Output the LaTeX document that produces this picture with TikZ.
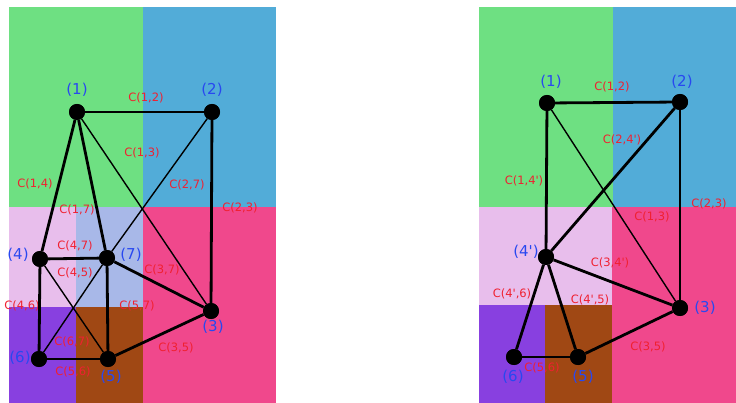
\documentclass[tikz,border=0pt]{standalone}
\usepackage{fontspec}
\setmainfont{DejaVu Sans}
\definecolor{cgreen}{HTML}{6EE082}
\definecolor{cblue}{HTML}{52ACD8}
\definecolor{cpink}{HTML}{F0488C}
\definecolor{clpink}{HTML}{E8BEEC}
\definecolor{clav}{HTML}{A8B8E8}
\definecolor{cpurple}{HTML}{8840E0}
\definecolor{cbrown}{HTML}{A04814}
\definecolor{cnode}{HTML}{2848F0}
\definecolor{cedge}{HTML}{F02030}
\newcommand{\pr}{\textquotesingle}
\begin{document}
\begin{tikzpicture}[x=1pt,y=-1pt,
  dot/.style={circle,fill=black,inner sep=0pt,minimum size=16pt},
  nlab/.style={text=cnode,font=\fontsize{15}{15}\selectfont,inner sep=0pt},
  elab/.style={text=cedge,font=\fontsize{11.5}{11.5}\selectfont,inner sep=0pt},
  thk/.style={line width=2.8pt},
  thn/.style={line width=1.4pt}]
\useasboundingbox (0,0) rectangle (736,403);
% left panel regions
\fill[cgreen] (9,7) rectangle (143,207);
\fill[cblue] (143,7) rectangle (276,207);
\fill[clpink] (9,207) rectangle (76,307);
\fill[clav] (76,207) rectangle (143,307);
\fill[cpink] (143,207) rectangle (276,403);
\fill[cpurple] (9,307) rectangle (76,403);
\fill[cbrown] (76,307) rectangle (143,403);
% right panel regions
\fill[cgreen] (479,7) rectangle (613,207);
\fill[cblue] (613,7) rectangle (736,207);
\fill[clpink] (479,207) rectangle (612,305);
\fill[cpink] (612,207) rectangle (736,403);
\fill[cpurple] (479,305) rectangle (545,403);
\fill[cbrown] (545,305) rectangle (612,403);
% left nodes
\node[dot] (a1) at (77,112) {};
\node[dot] (a2) at (212,112) {};
\node[dot] (a3) at (211,311) {};
\node[dot] (a4) at (40,259) {};
\node[dot] (a5) at (108,359) {};
\node[dot] (a6) at (39,359) {};
\node[dot] (a7) at (107,258) {};
% right nodes
\node[dot] (b1) at (547,103) {};
\node[dot] (b2) at (680,102) {};
\node[dot] (b3) at (680,308) {};
\node[dot] (b4) at (546,257) {};
\node[dot] (b5) at (578,357) {};
\node[dot] (b6) at (514,357) {};
% left edge labels
\node[elab] (la12) at (146,98) {C(1,2)};
\node[elab] (la13) at (142,153) {C(1,3)};
\node[elab] (la27) at (187,185) {C(2,7)};
\node[elab] (la14) at (35,184) {C(1,4)};
\node[elab] (la17) at (77,210) {C(1,7)};
\node[elab] (la23) at (240,208) {C(2,3)};
\node[elab] (la47) at (75,246) {C(4,7)};
\node[elab] (la45) at (75,273) {C(4,5)};
\node[elab] (la37) at (162,270) {C(3,7)};
\node[elab] (la46) at (22,306) {C(4,6)};
\node[elab] (la57) at (137,306) {C(5,7)};
\node[elab] (la35) at (176,348) {C(3,5)};
\node[elab] (la67) at (72,342) {C(6,7)};
\node[elab] (la56) at (73,372) {C(5,6)};
% right edge labels
\node[elab] (lb12) at (612,87) {C(1,2)};
\node[elab] (lb24) at (622,140) {C(2,4\pr)};
\node[elab] (lb14) at (524,181) {C(1,4\pr)};
\node[elab] (lb23) at (709,204) {C(2,3)};
\node[elab] (lb13) at (652,217) {C(1,3)};
\node[elab] (lb34) at (610,263) {C(3,4\pr)};
\node[elab] (lb46) at (512,294) {C(4\pr,6)};
\node[elab] (lb45) at (590,300) {C(4\pr,5)};
\node[elab] (lb35) at (648,347) {C(3,5)};
\node[elab] (lb56) at (542,368) {C(5,6)};
% left edges
\draw[thk] (a1) -- (a2);
\draw[thk] (a2) -- (a3);
\draw[thk] (a1) -- (a4);
\draw[thk] (a1) -- (a7);
\draw[thn] (a1) -- (a3);
\draw[thn] (a2) -- (a7);
\draw[thk] (a4) -- (a7);
\draw[thk] (a4) -- (a6);
\draw[thn] (a4) -- (a5);
\draw[thn] (a7) -- (a6);
\draw[thk] (a7) -- (a5);
\draw[thk] (a7) -- (a3);
\draw[thk] (a3) -- (a5);
\draw[thk] (a6) -- (a5);
% right edges
\draw[thk] (b1) -- (b2);
\draw[thk] (b2) -- (b3);
\draw[thk] (b1) -- (b4);
\draw[thk] (b2) -- (b4);
\draw[thn] (b1) -- (b3);
\draw[thk] (b4) -- (b3);
\draw[thk] (b4) -- (b6);
\draw[thk] (b4) -- (b5);
\draw[thk] (b6) -- (b5);
\draw[thk] (b3) -- (b5);
% redraw dots on top
\foreach \n in {a1,a2,a3,a4,a5,a6,a7,b1,b2,b3,b4,b5,b6}
  \fill (\n) circle (8pt);
% node labels
\node[nlab] (na1) at (77,90) {(1)};
\node[nlab] (na2) at (212,90) {(2)};
\node[nlab] (na4) at (18,255) {(4)};
\node[nlab] (na7) at (131,255) {(7)};
\node[nlab] (na3) at (213,327) {(3)};
\node[nlab] (na6) at (20,358) {(6)};
\node[nlab] (na5) at (111,377) {(5)};
\node[nlab] (nb1) at (551,82) {(1)};
\node[nlab] (nb2) at (682,82) {(2)};
\node[nlab] (nb4) at (526,252) {(4\pr)};
\node[nlab] (nb3) at (705,308) {(3)};
\node[nlab] (nb6) at (513,377) {(6)};
\node[nlab] (nb5) at (583,377) {(5)};
\end{tikzpicture}
\end{document}
